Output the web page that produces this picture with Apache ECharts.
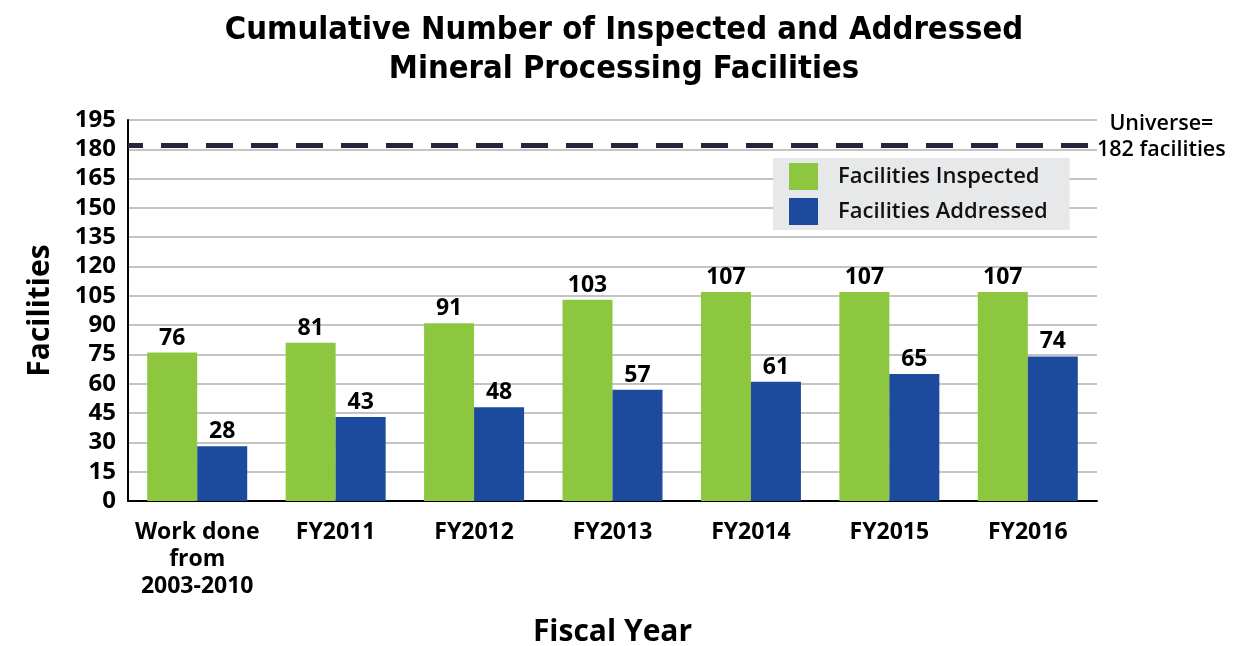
<!DOCTYPE html>
<html>
<head>
<meta charset="utf-8">
<script src="https://cdn.jsdelivr.net/npm/echarts@6/dist/echarts.min.js"></script>
<style>
  html, body { margin: 0; padding: 0; background: #fff; }
  #chart { width: 1248px; height: 646px; }
</style>
</head>
<body>
<div id="chart"></div>
<script>
  const categories = ['Work done\nfrom\n2003-2010', 'FY2011', 'FY2012', 'FY2013', 'FY2014', 'FY2015', 'FY2016']
  const inspected = [76, 81, 91, 103, 107, 107, 107]
  const addressed = [28, 43, 48, 57, 61, 65, 74]
  const universe = 182

  const chart = echarts.init(document.getElementById('chart'))
  const labelFont = 'Open Sans'

  const option = {
    title: {
      text: 'Cumulative Number of Inspected and Addressed\nMineral Processing Facilities',
      left: 'center',
      top: 6,
      textStyle: {
        fontFamily: "'DejaVu Sans Condensed', 'Liberation Sans Narrow', sans-serif",
        fontWeight: 'bold',
        fontSize: 32.5,
        lineHeight: 39,
        color: '#000'
      }
    },
    legend: {
      orient: 'vertical',
      left: 773,
      top: 158,
      padding: [5, 22, 5, 16],
      backgroundColor: '#e7e8ea',
      icon: 'rect',
      itemWidth: 29,
      itemHeight: 27,
      itemGap: 8,
      textStyle: { fontFamily: labelFont, fontSize: 22, fontWeight: 600, color: '#111', padding: [0, 0, 0, 15] },
      data: ['Facilities Inspected', 'Facilities Addressed']
    },
    grid: { left: 128, right: 151, top: 120, bottom: 145, outerBoundsMode: 'none', containLabel: false },
    xAxis: {
      type: 'category',
      data: categories,
      name: 'Fiscal Year',
      nameLocation: 'middle',
      nameGap: 116,
      nameTextStyle: { fontFamily: labelFont, fontWeight: 'bold', fontSize: 30, color: '#000' },
      axisLine: { lineStyle: { color: '#000', width: 2 } },
      axisTick: { show: false },
      axisLabel: {
        fontFamily: labelFont, fontWeight: 'bold', fontSize: 23, color: '#000',
        lineHeight: 27, margin: 18, interval: 0
      }
    },
    yAxis: {
      type: 'value',
      min: 0,
      max: 195,
      interval: 15,
      name: 'Facilities',
      nameLocation: 'middle',
      nameGap: 73,
      nameTextStyle: { fontFamily: labelFont, fontWeight: 'bold', fontSize: 30, color: '#000' },
      axisLine: { show: true, lineStyle: { color: '#000', width: 2 } },
      axisTick: { show: false },
      axisLabel: { fontFamily: labelFont, fontWeight: 'bold', fontSize: 24, color: '#000', margin: 12 },
      splitLine: { lineStyle: { color: '#c4c4c4', width: 2 } }
    },
    series: [
      {
        name: 'Facilities Inspected',
        type: 'bar',
        data: inspected,
        barWidth: 50,
        barGap: '0%',
        itemStyle: { color: '#8dc63f' },
        label: { show: true, position: 'top', distance: 3, fontFamily: labelFont, fontWeight: 'bold', fontSize: 23, color: '#000' },
        markLine: {
          silent: true,
          symbol: 'none',
          label: { show: false },
          lineStyle: { color: '#25253b', width: 5, type: [27, 18], dashOffset: 12 },
          data: [{ yAxis: universe }]
        }
      },
      {
        name: 'Facilities Addressed',
        type: 'bar',
        data: addressed,
        barWidth: 50,
        itemStyle: { color: '#1c4a9c' },
        label: { show: true, position: 'top', distance: 3, fontFamily: labelFont, fontWeight: 'bold', fontSize: 23, color: '#000' }
      }
    ],
    graphic: [
      {
        type: 'text',
        left: 1097,
        top: 111,
        style: {
          text: 'Universe=\n182 facilities',
          x: 64,
          textAlign: 'center',
          fontFamily: labelFont,
          fontSize: 21.5,
          fontWeight: 600,
          lineHeight: 26,
          fill: '#000'
        }
      }
    ]
  }

  chart.setOption(option)
</script>
</body>
</html>
